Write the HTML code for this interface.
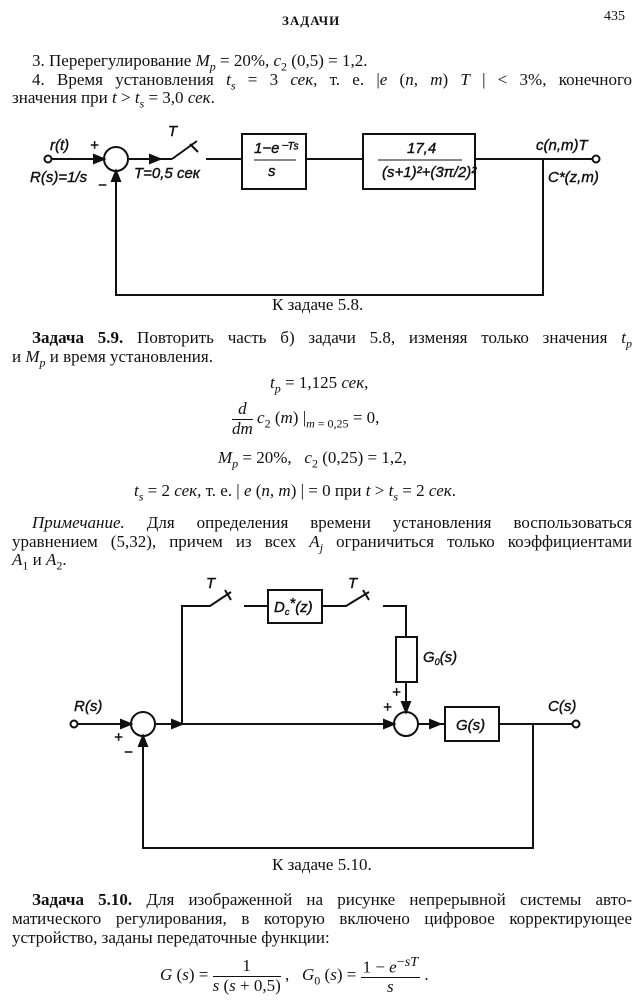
<!DOCTYPE html>
<html><head><meta charset="utf-8"><style>
body{margin:0;background:#fff;}
#p{position:relative;width:644px;height:1000px;overflow:hidden;font-family:"Liberation Serif",serif;color:#111;font-size:17px;}
.t{position:absolute;white-space:nowrap;line-height:1;}
.j{position:absolute;white-space:nowrap;line-height:1;text-align:justify;text-align-last:justify;}
i{font-style:italic}
sub{font-size:12px}
.f{display:inline-block;vertical-align:middle;text-align:center;line-height:1.1}
.f span{display:block}
.f .n{border-bottom:1px solid #111;padding:0 2px}
svg{position:absolute;left:0;top:0}
svg text{font-family:"Liberation Sans",sans-serif;font-style:italic;font-size:15px;fill:#111;stroke:#111;stroke-width:0.4}
</style></head><body><div id="p">
<div class="t" style="left:282px;top:14px;font-weight:bold;font-size:13px;letter-spacing:1px">ЗАДАЧИ</div>
<div class="t" style="left:604px;top:10px;font-size:14px">435</div>
<div class="t" style="left:32px;top:52px">3. Перерегулирование <i>M<sub>p</sub></i> = 20%, <i>c</i><sub>2</sub> (0,5) = 1,2.</div>
<div class="j" style="left:32px;top:71px;width:600px">4. Время установления <i>t<sub>s</sub></i> = 3 <i>сек</i>, т. е. |<i>e</i> (<i>n</i>, <i>m</i>) <i>T</i> | &lt; 3%, конечного</div>
<div class="t" style="left:12px;top:89px">значения при <i>t</i> &gt; <i>t<sub>s</sub></i> = 3,0 <i>сек</i>.</div>
<div class="t" style="left:272px;top:296px">К задаче 5.8.</div>
<div class="j" style="left:32px;top:329px;width:600px"><b>Задача 5.9.</b> Повторить часть б) задачи 5.8, изменяя только значения <i>t<sub>p</sub></i></div>
<div class="t" style="left:12px;top:348px">и <i>M<sub>p</sub></i> и время установления.</div>
<div class="t" style="left:270px;top:374px"><i>t<sub>p</sub></i> = 1,125 <i>сек</i>,</div>
<div class="t" style="left:232px;top:400px"><span class="f"><span class="n"><i>d</i></span><span><i>dm</i></span></span> <i>c</i><sub>2</sub> (<i>m</i>) |<sub><i>m</i> = 0,25</sub> = 0,</div>
<div class="t" style="left:218px;top:449px"><i>M<sub>p</sub></i> = 20%, &nbsp; <i>c</i><sub>2</sub> (0,25) = 1,2,</div>
<div class="t" style="left:134px;top:482px"><i>t<sub>s</sub></i> = 2 <i>сек</i>, т. е. | <i>e</i> (<i>n</i>, <i>m</i>) | = 0 при <i>t</i> &gt; <i>t<sub>s</sub></i> = 2 <i>сек</i>.</div>
<div class="j" style="left:32px;top:514px;width:600px"><i>Примечание.</i> Для определения времени установления воспользоваться</div>
<div class="j" style="left:12px;top:533px;width:620px">уравнением (5,32), причем из всех <i>A<sub>j</sub></i> ограничиться только коэффициентами</div>
<div class="t" style="left:12px;top:551px"><i>A</i><sub>1</sub> и <i>A</i><sub>2</sub>.</div>
<div class="t" style="left:272px;top:856px">К задаче 5.10.</div>
<div class="j" style="left:32px;top:891px;width:600px"><b>Задача 5.10.</b> Для изображенной на рисунке непрерывной системы авто-</div>
<div class="j" style="left:12px;top:910px;width:620px">матического регулирования, в которую включено цифровое корректирующее</div>
<div class="t" style="left:12px;top:929px">устройство, заданы передаточные функции:</div>
<div class="t" style="left:160px;top:955px"><i>G</i> (<i>s</i>) = <span class="f"><span class="n">1</span><span><i>s</i> (<i>s</i> + 0,5)</span></span> , &nbsp; <i>G</i><sub>0</sub> (<i>s</i>) = <span class="f"><span class="n">1 − <i>e</i><sup>−<i>sT</i></sup></span><span><i>s</i></span></span> .</div>
<svg width="644" height="1000" fill="none" stroke="#111" stroke-width="2">
<circle cx="48" cy="159" r="3.5"/>
<line x1="52" y1="159" x2="104" y2="159"/>
<circle cx="116" cy="159" r="12"/>
<line x1="128" y1="159" x2="172" y2="159"/>
<line x1="172" y1="159" x2="197" y2="141"/>
<line x1="190" y1="144" x2="198" y2="152"/>
<line x1="206" y1="159" x2="242" y2="159"/>
<rect x="242" y="134" width="64" height="55"/>
<line x1="306" y1="159" x2="363" y2="159"/>
<rect x="363" y="134" width="112" height="55"/>
<line x1="475" y1="159" x2="592" y2="159"/>
<circle cx="596" cy="159" r="3.5"/>
<polyline points="543,159 543,295 116,295 116,171"/>
<path d="M116 171 l-4 10 l8 0 z" fill="#111"/>
<path d="M104 159 l-10 -4 l0 8 z" fill="#111"/>
<path d="M160 159 l-10 -4 l0 8 z" fill="#111"/>
<line x1="254" y1="160" x2="296" y2="160" stroke-width="1"/>
<line x1="378" y1="160" x2="462" y2="160" stroke-width="1"/>
<text x="50" y="150">r(t)</text><text x="90" y="150" font-style="normal">+</text>
<text x="30" y="182">R(s)=1/s</text>
<text x="98" y="190" font-style="normal">−</text>
<text x="134" y="178">T=0,5 сек</text>
<text x="168" y="136">T</text>
<text x="254" y="153" font-size="12">1−e⁻ᵀˢ</text><text x="268" y="176" font-size="12">s</text>
<text x="407" y="153" font-size="12">17,4</text><text x="382" y="177" font-size="12">(s+1)²+(3π/2)²</text>
<text x="536" y="150">c(n,m)T</text>
<text x="548" y="182">C*(z,m)</text>
<circle cx="74" cy="724" r="3.5"/>
<line x1="78" y1="724" x2="131" y2="724"/>
<path d="M131 724 l-10 -4 l0 8 z" fill="#111"/>
<circle cx="143" cy="724" r="12"/>
<line x1="155" y1="724" x2="394" y2="724"/>
<path d="M182 724 l-10 -4 l0 8 z" fill="#111"/>
<path d="M394 724 l-10 -4 l0 8 z" fill="#111"/>
<polyline points="182,724 182,606 210,606 231,592"/>
<line x1="225" y1="590" x2="231" y2="600"/>
<line x1="244" y1="606" x2="268" y2="606"/>
<rect x="268" y="590" width="54" height="33"/>
<polyline points="322,606 346,606 369,592"/>
<line x1="363" y1="590" x2="369" y2="600"/>
<polyline points="383,606 406,606 406,637"/>
<rect x="396" y="637" width="21" height="45"/>
<line x1="406" y1="682" x2="406" y2="712"/>
<path d="M406 712 l-4 -10 l8 0 z" fill="#111"/>
<circle cx="406" cy="724" r="12"/>
<line x1="418" y1="724" x2="445" y2="724"/>
<path d="M440 724 l-10 -4 l0 8 z" fill="#111"/>
<rect x="445" y="707" width="54" height="34"/>
<line x1="499" y1="724" x2="572" y2="724"/>
<circle cx="576" cy="724" r="3.5"/>
<polyline points="533,724 533,848 143,848 143,736"/>
<path d="M143 736 l-4 10 l8 0 z" fill="#111"/>
<text x="74" y="711">R(s)</text>
<text x="114" y="742" font-style="normal">+</text>
<text x="124" y="757" font-style="normal">−</text>
<text x="206" y="588" font-size="12">T</text>
<text x="348" y="588" font-size="12">T</text>
<text x="274" y="612" font-size="13">D<tspan font-size="9" dy="3">c</tspan><tspan dy="-7">*</tspan><tspan dy="4">(z)</tspan></text>
<text x="423" y="662" font-size="13">G<tspan font-size="9" dy="3">0</tspan><tspan dy="-3">(s)</tspan></text>
<text x="392" y="697" font-style="normal">+</text>
<text x="383" y="712" font-style="normal">+</text>
<text x="456" y="730">G(s)</text>
<text x="548" y="711">C(s)</text>
</svg>
</div></body></html>
